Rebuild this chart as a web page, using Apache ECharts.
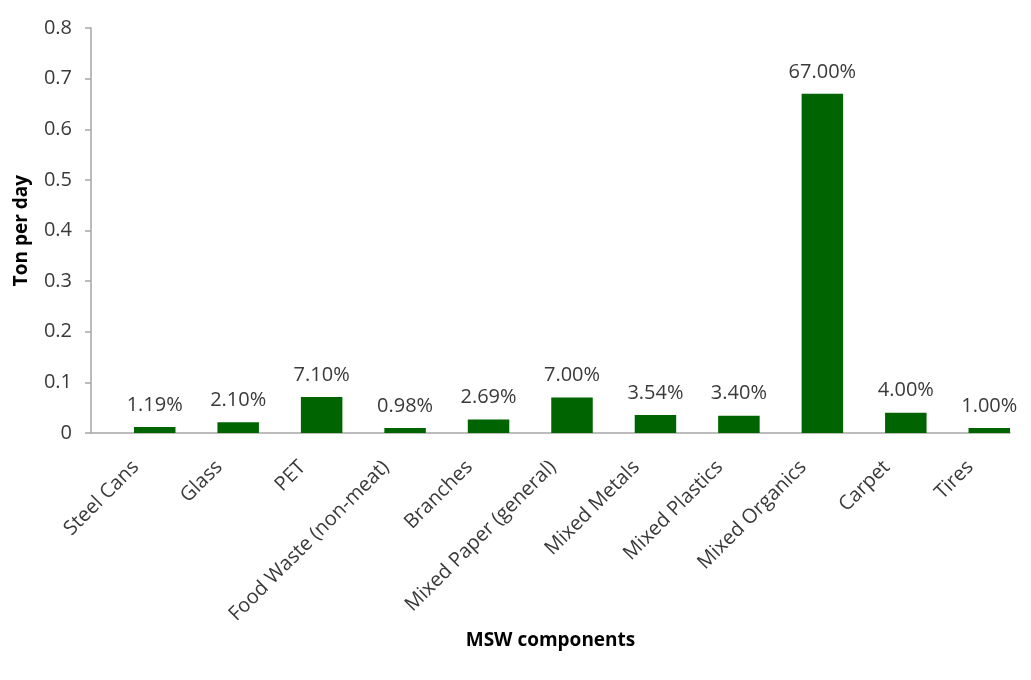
<!DOCTYPE html>
<html>
<head>
<meta charset="utf-8">
<script src="https://cdn.jsdelivr.net/npm/echarts@6/dist/echarts.min.js"></script>
<style>
  html, body { margin: 0; padding: 0; background: #fff; }
  #main { width: 1031px; height: 680px; }
</style>
</head>
<body>
<div id="main"></div>
<script>
var categories = ['Steel Cans', 'Glass', 'PET', 'Food Waste (non-meat)', 'Branches',
    'Mixed Paper (general)', 'Mixed Metals', 'Mixed Plastics', 'Mixed Organics', 'Carpet', 'Tires'];
var tonPerDay = [0.0119, 0.021, 0.071, 0.0098, 0.0269, 0.07, 0.0354, 0.034, 0.67, 0.04, 0.01];
var yMin = 0, yMax = 0.8, yStep = 0.1;

var myChart = echarts.init(document.getElementById('main'));
var font = 'Open Sans';
var textColor = '#3a3a3a';
var axisColor = '#a6a6a6';

var option = {
    textStyle: { fontFamily: font },
    grid: [
        { left: 113, right: 0, top: 28, bottom: 247 },
        { left: 91, right: 21, top: 28, bottom: 247 }
    ],
    xAxis: [{
            type: 'category',
            gridIndex: 0,
            data: categories,
            axisLine: { show: false },
            axisTick: { show: false },
            axisLabel: {
                interval: 0,
                rotate: 45,
                margin: 12,
                padding: [0, 27, 0, 0],
                fontSize: 20,
                fontFamily: font,
                color: textColor
            }
        },
        {
            type: 'category',
            gridIndex: 1,
            data: categories,
            axisLine: { show: true, lineStyle: { color: axisColor, width: 1.5 } },
            axisTick: { show: false },
            axisLabel: { show: false },
            name: 'MSW components',
            nameLocation: 'middle',
            nameGap: 198,
            nameTextStyle: { fontSize: 19, fontWeight: 'bold', color: '#000', fontFamily: font }
        }
    ],
    yAxis: [{
            type: 'value',
            gridIndex: 0,
            min: yMin,
            max: yMax,
            interval: yStep,
            show: false
        },
        {
            type: 'value',
            gridIndex: 1,
            min: yMin,
            max: yMax,
            interval: yStep,
            axisLine: { show: true, lineStyle: { color: axisColor, width: 1.5 } },
            axisTick: { show: true, length: 6, lineStyle: { color: axisColor, width: 1.5 } },
            splitLine: { show: false },
            axisLabel: { margin: 19, fontSize: 20, fontFamily: font, color: textColor },
            name: 'Ton per day',
            nameLocation: 'middle',
            nameGap: 60,
            nameTextStyle: { fontSize: 19, fontWeight: 'bold', color: '#000', fontFamily: font }
        }
    ],
    series: [{
        type: 'bar',
        xAxisIndex: 0,
        yAxisIndex: 0,
        data: tonPerDay,
        barWidth: 41.5,
        itemStyle: { color: '#006400' },
        label: {
            show: true,
            position: 'top',
            distance: 12,
            fontSize: 20,
            fontFamily: font,
            color: textColor,
            formatter: function (p) {
                return (p.value * 100).toFixed(2) + '%';
            }
        }
    }]
};

myChart.setOption(option);
</script>
</body>
</html>
